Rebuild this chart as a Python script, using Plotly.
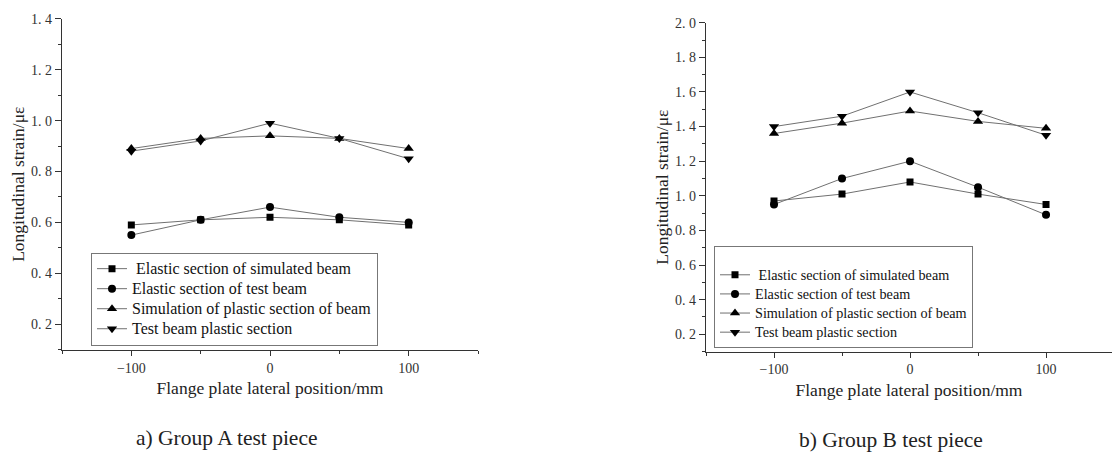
import plotly.graph_objects as go
from plotly.subplots import make_subplots

# Lateral measuring positions across the flange plate (mm)
positions = [-100, -50, 0, 50, 100]

# Group A longitudinal strain
a_sim_elastic = [0.59, 0.61, 0.62, 0.61, 0.59]
a_test_elastic = [0.55, 0.61, 0.66, 0.62, 0.60]
a_sim_plastic = [0.89, 0.93, 0.94, 0.93, 0.89]
a_test_plastic = [0.88, 0.92, 0.99, 0.93, 0.85]

# Group B longitudinal strain
b_sim_elastic = [0.97, 1.01, 1.08, 1.01, 0.95]
b_test_elastic = [0.95, 1.10, 1.20, 1.05, 0.89]
b_sim_plastic = [1.36, 1.42, 1.49, 1.43, 1.39]
b_test_plastic = [1.40, 1.46, 1.60, 1.48, 1.35]

series_names = [
    "\u00a0Elastic section of simulated beam",
    "Elastic section of test beam",
    "Simulation of plastic section of beam",
    "Test beam plastic section",
]
symbols = ["square", "circle", "triangle-up", "triangle-down"]
marker_sizes = [7, 8, 9, 9]

a_ticks = [0.2, 0.4, 0.6, 0.8, 1.0, 1.2, 1.4]
a_ticklabels = ["0. 2", "0. 4", "0. 6", "0. 8", "1. 0", "1. 2", "1. 4"]
b_ticks = [0.2, 0.4, 0.6, 0.8, 1.0, 1.2, 1.4, 1.6, 1.8, 2.0]
b_ticklabels = ["0. 2", "0. 4", "0. 6", "0. 8", "1. 0", "1. 2", "1. 4", "1. 6", "1. 8", "2. 0"]
x_ticks = [-100, 0, 100]

SERIF = "Liberation Serif"
AXIS_COLOR = "#333333"
LINE_COLOR = "#707070"


def sized(text, px):
    # legend rows stay compact while the entry text is drawn larger
    return f'<span style="font-size:{px}px">{text}</span>'


fig = make_subplots(rows=1, cols=2)

group_a = [a_sim_elastic, a_test_elastic, a_sim_plastic, a_test_plastic]
group_b = [b_sim_elastic, b_test_elastic, b_sim_plastic, b_test_plastic]

for name, sym, ms, ys in zip(series_names, symbols, marker_sizes, group_a):
    fig.add_trace(go.Scatter(
        x=positions, y=ys, mode="lines+markers", name=sized(name, 16.0),
        line=dict(color=LINE_COLOR, width=1),
        marker=dict(symbol=sym, size=ms, color="black"),
        legend="legend",
    ), row=1, col=1)

for name, sym, ms, ys in zip(series_names, symbols, marker_sizes, group_b):
    fig.add_trace(go.Scatter(
        x=positions, y=ys, mode="lines+markers", name=sized(name, 14.2),
        line=dict(color=LINE_COLOR, width=1),
        marker=dict(symbol=sym, size=ms, color="black"),
        legend="legend2",
    ), row=1, col=2)

W, H = 1112, 452


def fx(px):
    return px / W


def fy(py):
    return (H - py) / H


common_x = dict(
    tickmode="array", tickvals=x_ticks,
    showline=True, linecolor=AXIS_COLOR, linewidth=1.2,
    ticks="outside", ticklen=5, tickcolor=AXIS_COLOR, tickwidth=1,
    minor=dict(tickmode="array", tickvals=[-150, -50, 50, 150], ticks="outside",
               ticklen=3, tickcolor=AXIS_COLOR, showgrid=False),
    showgrid=False, zeroline=False,
    tickfont=dict(family=SERIF, size=14, color="#333333"),
    title=dict(text="Flange plate lateral position/mm",
               font=dict(family=SERIF, size=17.5, color="#222222"), standoff=7),
)
common_y = dict(
    tickmode="array",
    showline=True, linecolor=AXIS_COLOR, linewidth=1.2,
    ticks="outside", ticklen=6, tickcolor=AXIS_COLOR, tickwidth=1,
    showgrid=False, zeroline=False,
    tickfont=dict(family=SERIF, size=14, color="#333333"),
    title=dict(text="Longitudinal strain/\u03bc\u03b5",
               font=dict(family=SERIF, size=17.5, color="#222222"), standoff=1),
)

fig.update_xaxes(common_x, row=1, col=1)
fig.update_xaxes(common_x, row=1, col=2)
fig.update_yaxes(common_y, row=1, col=1)
fig.update_yaxes(common_y, row=1, col=2)

fig.update_layout(
    width=W, height=H,
    margin=dict(l=0, r=0, t=0, b=0),
    paper_bgcolor="white", plot_bgcolor="white",
    font=dict(family=SERIF, color="#222222"),
    xaxis=dict(domain=[fx(62), fx(478)], range=[-150, 150]),
    yaxis=dict(domain=[fy(348), fy(12)], range=[0.1, 1.4],
               tickvals=a_ticks, ticktext=a_ticklabels,
               minor=dict(dtick=0.1, tick0=0, ticks="outside", ticklen=3,
                          tickcolor=AXIS_COLOR, showgrid=False)),
    xaxis2=dict(domain=[fx(706), 1.0], range=[-150, 148.5]),
    yaxis2=dict(domain=[fy(350), fy(16)], range=[0.1, 2.0],
                tickvals=b_ticks, ticktext=b_ticklabels,
                minor=dict(dtick=0.1, tick0=0, ticks="outside", ticklen=3,
                           tickcolor=AXIS_COLOR, showgrid=False)),
    legend=dict(
        x=fx(91), y=fy(249.5), xanchor="left", yanchor="top",
        bgcolor="white", bordercolor="#777777", borderwidth=1,
        font=dict(family=SERIF, size=13.1, color="#111111"),
        tracegroupgap=0,
    ),
    legend2=dict(
        x=fx(714), y=fy(243), xanchor="left", yanchor="top",
        bgcolor="white", bordercolor="#777777", borderwidth=1,
        font=dict(family=SERIF, size=12.4, color="#111111"),
        title=dict(text="\u00a0", font=dict(family=SERIF, size=10)),
        tracegroupgap=0,
    ),
    annotations=[
        dict(text="a) Group A test piece", x=fx(227), y=fy(438),
             xref="paper", yref="paper", showarrow=False,
             xanchor="center", yanchor="middle",
             font=dict(family=SERIF, size=21.5, color="#222222")),
        dict(text="b) Group B test piece", x=fx(891), y=fy(440),
             xref="paper", yref="paper", showarrow=False,
             xanchor="center", yanchor="middle",
             font=dict(family=SERIF, size=21.5, color="#222222")),
    ],
)

fig.write_html("out.html")
